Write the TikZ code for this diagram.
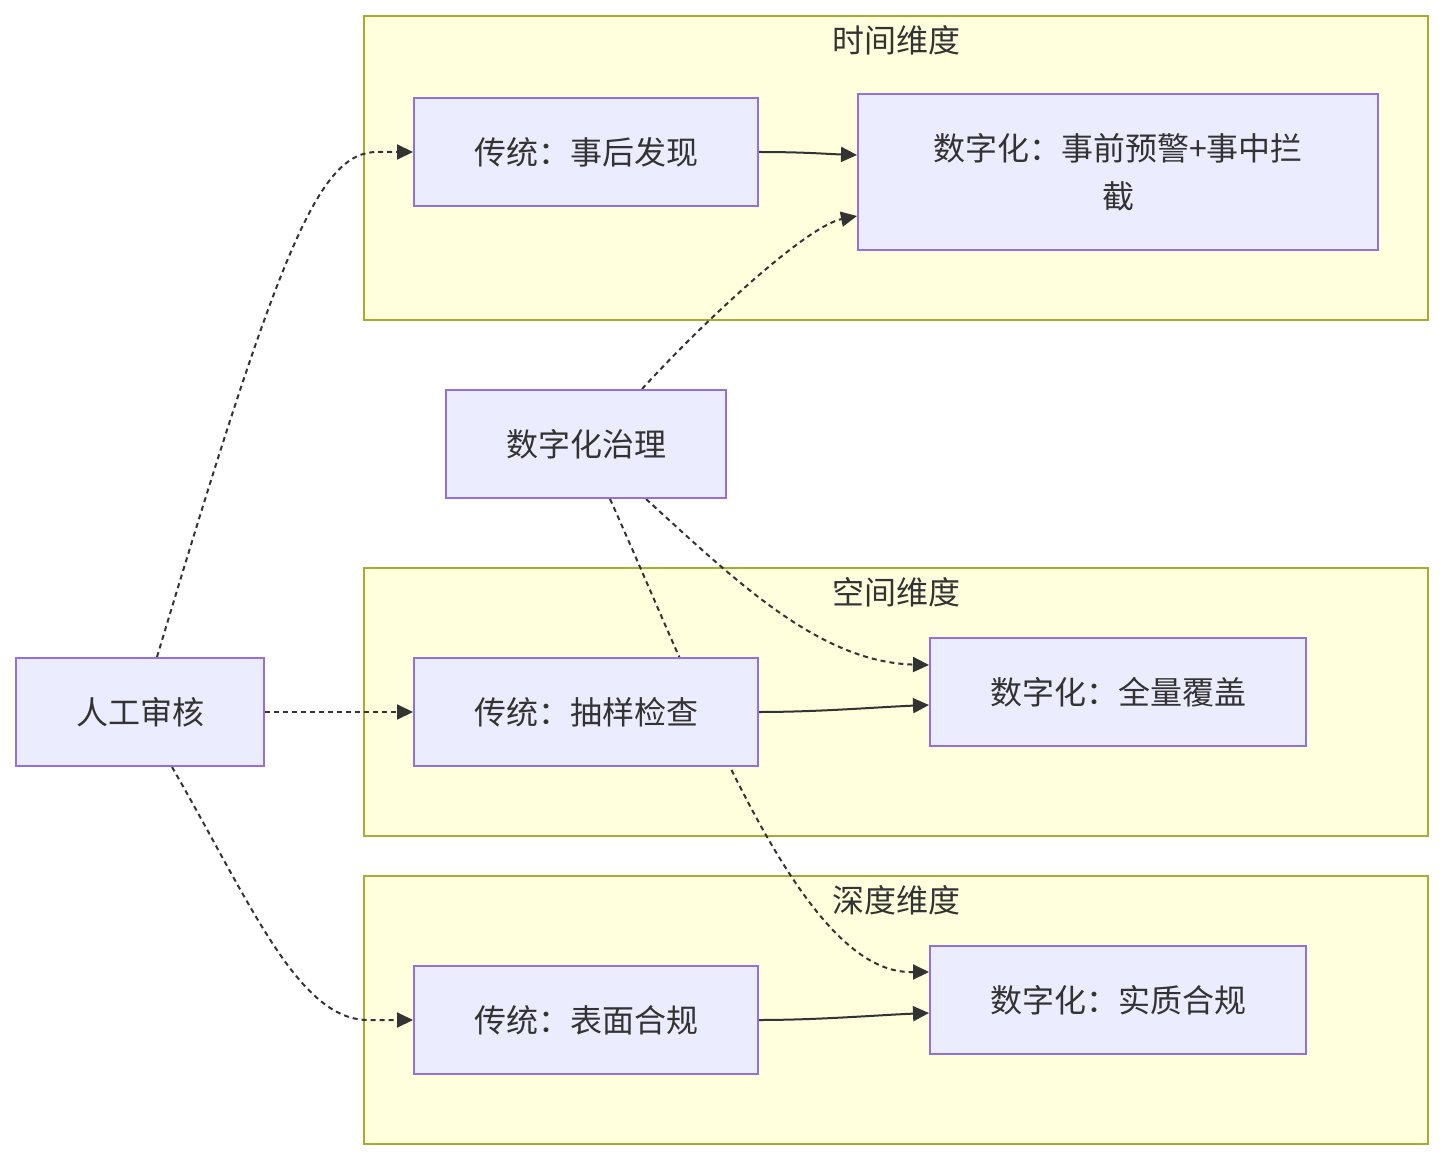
\documentclass[tikz,border=0pt]{standalone}
\usepackage{fontspec}
\setmainfont{Noto Sans CJK SC}
\usetikzlibrary{arrows.meta,calc}
\definecolor{nodefill}{HTML}{ECECFF}
\definecolor{nodeline}{HTML}{9370DB}
\definecolor{clfill}{HTML}{FFFFDE}
\definecolor{clline}{HTML}{AAAA33}
\definecolor{ink}{HTML}{333333}
\pgfdeclarelayer{bg}
\pgfdeclarelayer{edges}
\pgfsetlayers{bg,edges,main}
\tikzset{
  box/.style={draw=nodeline, fill=nodefill, line width=1pt, inner sep=0pt, text=ink, align=center,
    font=\fontsize{16pt}{24pt}\selectfont},
  cluster/.style={draw=clline, fill=clfill, line width=1pt, inner sep=0pt,
    minimum width=532pt},
  ctitle/.style={text=ink, font=\fontsize{16pt}{24pt}\selectfont, inner sep=0pt},
  link/.style={draw=ink, line width=1pt, -{Triangle[length=8pt,width=7.5pt]}},
  dotlink/.style={link, dash pattern=on 2.5pt off 2pt},
}
\begin{document}
\begin{tikzpicture}[x=0.5pt,y=-0.5pt]
\useasboundingbox (0,0) rectangle (1444,1160);
% clusters
\begin{pgfonlayer}{bg}
\fill[white] (0,0) rectangle (1444,1160);
\node[cluster, minimum height=152pt] (c1) at (896,168) {};
\node[cluster, minimum height=134pt] (c2) at (896,702) {};
\node[cluster, minimum height=134pt] (c3) at (896,1010) {};
\node[ctitle] (c1t) at (896,40) {时间维度};
\node[ctitle] (c2t) at (896,592) {空间维度};
\node[ctitle] (c3t) at (896,900) {深度维度};
\end{pgfonlayer}
% nodes
\node[box, minimum width=172pt, minimum height=54pt] (tA) at (586,152) {传统：事后发现};
\node[box, minimum width=260pt, minimum height=78pt] (dA) at (1118,172) {数字化：事前预警+事中拦\\截};
\node[box, minimum width=140pt, minimum height=54pt] (gov) at (586,444) {数字化治理};
\node[box, minimum width=124pt, minimum height=54pt] (rg) at (140,712) {人工审核};
\node[box, minimum width=172pt, minimum height=54pt] (tB) at (586,712) {传统：抽样检查};
\node[box, minimum width=188pt, minimum height=54pt] (dB) at (1118,692) {数字化：全量覆盖};
\node[box, minimum width=172pt, minimum height=54pt] (tC) at (586,1020) {传统：表面合规};
\node[box, minimum width=188pt, minimum height=54pt] (dC) at (1118,1000) {数字化：实质合规};
% edges
\begin{pgfonlayer}{edges}
\draw[link] (tA.east) .. controls ($(tA.east)+(45,0)$) and ($(dA.west)+(-30,-18)$) .. ($(dA.west)+(0,-17)$);
\draw[link] (tB.east) .. controls ($(tB.east)+(60,0)$) and ($(dB.west)+(-50,15)$) .. ($(dB.west)+(0,13)$);
\draw[link] (tC.east) .. controls ($(tC.east)+(60,0)$) and ($(dC.west)+(-50,15)$) .. ($(dC.west)+(0,13)$);
\draw[dotlink] ($(rg.north)+(17,0)$) .. controls ($(rg.north)+(140,-410)$) and ($(tA.west)+(-94,0)$) .. ($(tA.west)+(-36,0)$) -- (tA.west);
\draw[dotlink] (rg.east) -- (tB.west);
\draw[dotlink] ($(rg.south)+(32,0)$) .. controls ($(rg.south)+(110,135)$) and ($(tC.west)+(-115,0)$) .. ($(tC.west)+(-45,0)$) -- (tC.west);
\draw[dotlink] ($(gov.north)+(56,0)$) .. controls ($(gov.north)+(120,-70)$) and ($(dA.west)+(-50,54)$) .. ($(dA.west)+(0,44)$);
\draw[dotlink] ($(gov.south)+(60,0)$) .. controls ($(gov.south)+(150,82)$) and ($(dB.west)+(-110,-30)$) .. ($(dB.west)+(0,-27)$);
\draw[dotlink] ($(gov.south)+(24,0)$) .. controls ($(gov.south)+(114,200)$) and ($(dC.west)+(-130,-30)$) .. ($(dC.west)+(-20,-28)$) -- ($(dC.west)+(0,-28)$);
\end{pgfonlayer}
\end{tikzpicture}
\end{document}
